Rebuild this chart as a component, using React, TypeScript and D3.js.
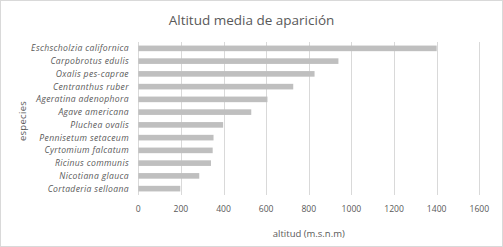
import { useEffect, useRef } from 'react';
import * as d3 from 'd3';

const especies = [
  'Eschscholzia californica',
  'Carpobrotus edulis',
  'Oxalis pes-caprae',
  'Centranthus ruber',
  'Ageratina adenophora',
  'Agave americana',
  'Pluchea ovalis',
  'Pennisetum setaceum',
  'Cyrtomium falcatum',
  'Ricinus communis',
  'Nicotiana glauca',
  'Cortaderia selloana',
];
const altitudes = [1400, 939, 827, 727, 606, 530, 398, 353, 349, 341, 286, 197];
const xTicks = [0, 200, 400, 600, 800, 1000, 1200, 1400, 1600];

const W = 503;
const H = 247;
const FONT = "'Open Sans', 'Noto Sans', sans-serif";

export default function App() {
  const svgRef = useRef<SVGSVGElement>(null);

  useEffect(() => {
    document.body.style.margin = '0';
    if (!svgRef.current) return;
    const svg = d3.select(svgRef.current);
    svg.selectAll('*').remove();

    const margin = { top: 42, right: 24, bottom: 52, left: 138.3 };

    // chart frame
    svg.append('rect')
      .attr('x', 0.5).attr('y', 0.5)
      .attr('width', W - 1).attr('height', H - 1)
      .attr('fill', '#fff')
      .attr('stroke', '#d9d9d9');

    const x = d3.scaleLinear()
      .domain([0, 1600])
      .range([margin.left, 479.3]);

    const y = d3.scaleBand()
      .domain(especies)
      .range([margin.top, H - margin.bottom])
      .paddingInner(0.56)
      .paddingOuter(0.28);

    // gridlines
    svg.append('g')
      .selectAll('line')
      .data(xTicks)
      .join('line')
      .attr('x1', d => Math.round(x(d)) + 0.5)
      .attr('x2', d => Math.round(x(d)) + 0.5)
      .attr('y1', margin.top)
      .attr('y2', H - margin.bottom)
      .attr('stroke', '#d9d9d9')
      .attr('stroke-width', 1);

    // bars
    svg.append('g')
      .selectAll('rect')
      .data(especies)
      .join('rect')
      .attr('x', x(0))
      .attr('y', d => y(d)!)
      .attr('width', (_, i) => x(altitudes[i]) - x(0))
      .attr('height', y.bandwidth())
      .attr('fill', '#bfbfbf');

    // category labels
    svg.append('g')
      .selectAll('text')
      .data(especies)
      .join('text')
      .attr('x', 129)
      .attr('y', d => y(d)! + y.bandwidth() / 2)
      .attr('dy', '0.35em')
      .attr('text-anchor', 'end')
      .attr('font-family', FONT)
      .attr('font-style', 'italic')
      .attr('font-size', 8.6)
      .attr('letter-spacing', 0.35)
      .attr('fill', '#595959')
      .text(d => d);

    // x tick labels
    svg.append('g')
      .selectAll('text')
      .data(xTicks)
      .join('text')
      .attr('x', d => x(d))
      .attr('y', 209)
      .attr('dy', '0.35em')
      .attr('text-anchor', 'middle')
      .attr('font-family', FONT)
      .attr('font-size', 8.6)
      .attr('fill', '#595959')
      .text(d => String(d));

    // axis titles
    svg.append('text')
      .attr('x', (x(0) + x(1600)) / 2)
      .attr('y', 234)
      .attr('dy', '0.35em')
      .attr('text-anchor', 'middle')
      .attr('font-family', FONT)
      .attr('font-size', 9.5)
      .attr('fill', '#595959')
      .text('altitud (m.s.n.m)');

    svg.append('text')
      .attr('transform', `translate(23, ${121}) rotate(-90)`)
      .attr('dy', '0.35em')
      .attr('text-anchor', 'middle')
      .attr('font-family', FONT)
      .attr('font-size', 9.5)
      .attr('letter-spacing', 0.3)
      .attr('fill', '#595959')
      .text('especies');

    // title
    svg.append('text')
      .attr('x', 251.5)
      .attr('y', 20)
      .attr('dy', '0.35em')
      .attr('text-anchor', 'middle')
      .attr('font-family', FONT)
      .attr('font-size', 13.5)
      .attr('fill', '#595959')
      .text('Altitud media de aparición');
  }, []);

  return <svg ref={svgRef} width={W} height={H} style={{ display: 'block' }} />;
}
